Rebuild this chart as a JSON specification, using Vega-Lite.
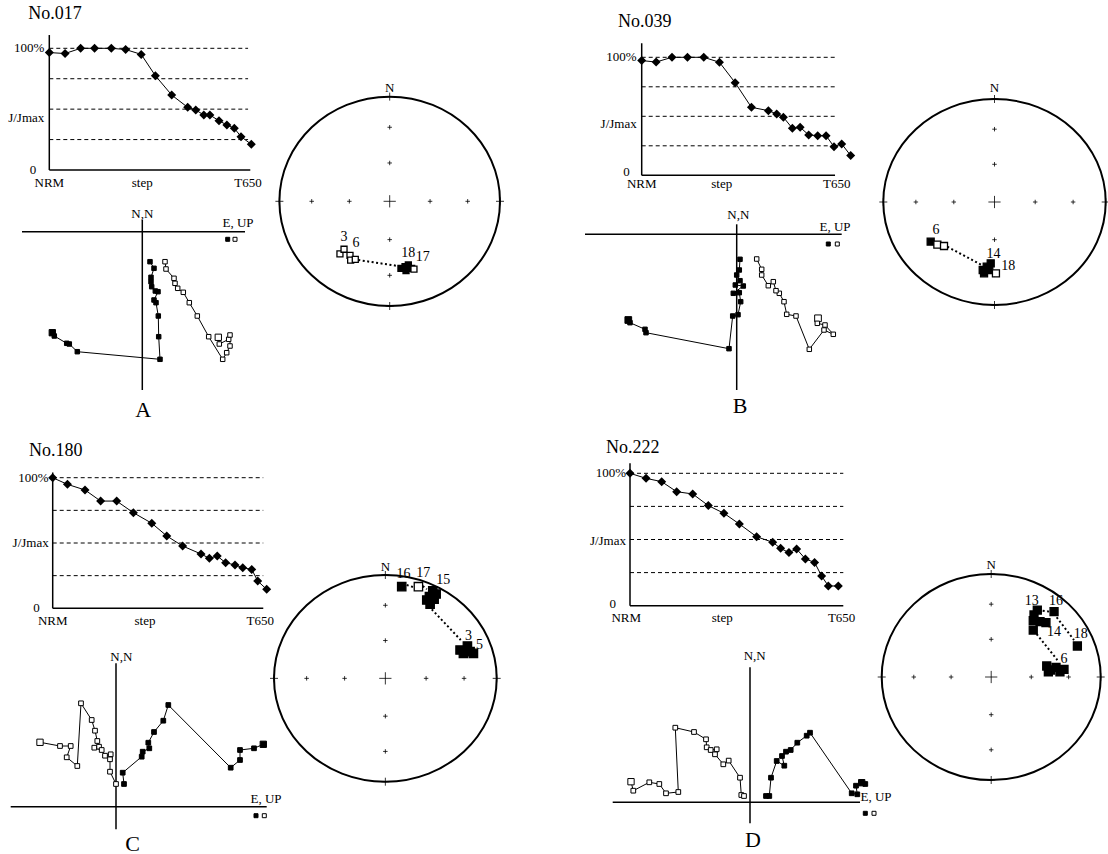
{
"$schema": "https://vega.github.io/schema/vega-lite/v6.json",
"width": 1108, "height": 854, "padding": 0,
"autosize": {"type": "none"},
"background": "white",
"config": {"view": {"stroke": null}, "axis": {"disable": true}, "mark": {"color": "black"}, "text": {"font": "Liberation Serif", "fontSize": 13, "color": "black", "fill": "black"}},
"datasets": {
"gr": [{"g":25},{"g":50},{"g":75},{"g":100}],
"net": [{"x":0,"y":0,"k":"c"},{"x":0,"y":0.366,"k":"s"},{"x":0,"y":0.707,"k":"s"},{"x":0,"y":-0.366,"k":"s"},{"x":0,"y":-0.707,"k":"s"},{"x":0.366,"y":0,"k":"s"},{"x":0.707,"y":0,"k":"s"},{"x":-0.366,"y":0,"k":"s"},{"x":-0.707,"y":0,"k":"s"},{"x":0,"y":1,"k":"e"},{"x":0,"y":-1,"k":"e"},{"x":1,"y":0,"k":"e"},{"x":-1,"y":0,"k":"e"}],
"dm": [
{"p":"A","s":1,"x":0,"y":96.5},{"p":"A","s":2,"x":7.8,"y":95.7},{"p":"A","s":3,"x":15.5,"y":100},{"p":"A","s":4,"x":22.4,"y":100},{"p":"A","s":5,"x":30.7,"y":100},{"p":"A","s":6,"x":37.8,"y":99},{"p":"A","s":7,"x":45.5,"y":95},{"p":"A","s":8,"x":52.5,"y":77.5},{"p":"A","s":9,"x":60.6,"y":61.6},{"p":"A","s":10,"x":68.5,"y":51.5},{"p":"A","s":11,"x":72.5,"y":49.3},{"p":"A","s":12,"x":76.5,"y":45.2},{"p":"A","s":13,"x":79.5,"y":45.2},{"p":"A","s":14,"x":84,"y":40.5},{"p":"A","s":15,"x":87.9,"y":37},{"p":"A","s":16,"x":91.6,"y":34.3},{"p":"A","s":17,"x":94.9,"y":27.4},{"p":"A","s":18,"x":100,"y":21.1},
{"p":"B","s":1,"x":0,"y":97.2},{"p":"B","s":2,"x":6.9,"y":96},{"p":"B","s":3,"x":14.5,"y":100},{"p":"B","s":4,"x":21.9,"y":100},{"p":"B","s":5,"x":29.7,"y":100},{"p":"B","s":6,"x":37.2,"y":95.8},{"p":"B","s":7,"x":44.7,"y":78.5},{"p":"B","s":8,"x":52.5,"y":57.6},{"p":"B","s":9,"x":60.6,"y":54.8},{"p":"B","s":10,"x":64.6,"y":52},{"p":"B","s":11,"x":67.8,"y":49.2},{"p":"B","s":12,"x":72.1,"y":39.8},{"p":"B","s":13,"x":75.8,"y":40.7},{"p":"B","s":14,"x":79.9,"y":34.2},{"p":"B","s":15,"x":84.2,"y":33.6},{"p":"B","s":16,"x":88.2,"y":33.6},{"p":"B","s":17,"x":92,"y":24.3},{"p":"B","s":18,"x":95.7,"y":26.6},{"p":"B","s":19,"x":100,"y":16.7},
{"p":"C","s":1,"x":0,"y":100},{"p":"C","s":2,"x":6.9,"y":94.9},{"p":"C","s":3,"x":15.1,"y":90.6},{"p":"C","s":4,"x":22.4,"y":82.1},{"p":"C","s":5,"x":29.9,"y":82.1},{"p":"C","s":6,"x":37.7,"y":73.2},{"p":"C","s":7,"x":46.3,"y":65.1},{"p":"C","s":8,"x":53.3,"y":55.4},{"p":"C","s":9,"x":60.7,"y":47.7},{"p":"C","s":10,"x":69.3,"y":41.6},{"p":"C","s":11,"x":73.2,"y":38.3},{"p":"C","s":12,"x":76.9,"y":40},{"p":"C","s":13,"x":80.8,"y":34.9},{"p":"C","s":14,"x":85.2,"y":33.2},{"p":"C","s":15,"x":88.8,"y":31.1},{"p":"C","s":16,"x":93,"y":29.8},{"p":"C","s":17,"x":95.8,"y":20.9},{"p":"C","s":18,"x":100,"y":14.5},
{"p":"D","s":1,"x":0,"y":100},{"p":"D","s":2,"x":7.7,"y":96.2},{"p":"D","s":3,"x":15.2,"y":93.7},{"p":"D","s":4,"x":22.4,"y":86.1},{"p":"D","s":5,"x":30.1,"y":84.4},{"p":"D","s":6,"x":37.6,"y":75.6},{"p":"D","s":7,"x":45.1,"y":69.8},{"p":"D","s":8,"x":52.5,"y":61.7},{"p":"D","s":9,"x":60.8,"y":52.1},{"p":"D","s":10,"x":68.5,"y":47.9},{"p":"D","s":11,"x":72.3,"y":43.3},{"p":"D","s":12,"x":76.3,"y":40.1},{"p":"D","s":13,"x":80,"y":42.8},{"p":"D","s":14,"x":84.2,"y":35.3},{"p":"D","s":15,"x":88.6,"y":32.7},{"p":"D","s":16,"x":92,"y":22.4},{"p":"D","s":17,"x":95.2,"y":14.9},{"p":"D","s":18,"x":100,"y":14.9}
],
"zj": [
{"p":"A","t":"f","s":1,"x":-90,"y":-101},{"p":"A","t":"f","s":2,"x":-88,"y":-104.3},{"p":"A","t":"f","s":3,"x":-75.6,"y":-111.6},{"p":"A","t":"f","s":4,"x":-73,"y":-112.3},{"p":"A","t":"f","s":5,"x":-65,"y":-120},{"p":"A","t":"f","s":6,"x":17.7,"y":-127.6},{"p":"A","t":"f","s":7,"x":16.4,"y":-105},{"p":"A","t":"f","s":8,"x":16,"y":-84.3},{"p":"A","t":"f","s":9,"x":13.7,"y":-71},{"p":"A","t":"f","s":10,"x":11.7,"y":-68.3},{"p":"A","t":"f","s":11,"x":15.7,"y":-60},{"p":"A","t":"f","s":12,"x":13,"y":-59.3},{"p":"A","t":"f","s":13,"x":9.4,"y":-55},{"p":"A","t":"f","s":14,"x":8.7,"y":-50},{"p":"A","t":"f","s":15,"x":8.7,"y":-45.6},{"p":"A","t":"f","s":16,"x":11.7,"y":-36.6},{"p":"A","t":"f","s":17,"x":7.7,"y":-30},
{"p":"A","t":"o","s":1,"x":76,"y":-105.6},{"p":"A","t":"o","s":2,"x":77,"y":-112.3},{"p":"A","t":"o","s":3,"x":86.4,"y":-107.6},{"p":"A","t":"o","s":4,"x":87.7,"y":-103.3},{"p":"A","t":"o","s":5,"x":87.7,"y":-114.3},{"p":"A","t":"o","s":6,"x":84.4,"y":-121},{"p":"A","t":"o","s":7,"x":80.4,"y":-127.6},{"p":"A","t":"o","s":8,"x":66.4,"y":-105},{"p":"A","t":"o","s":9,"x":55,"y":-84.3},{"p":"A","t":"o","s":10,"x":47,"y":-71},{"p":"A","t":"o","s":11,"x":41,"y":-60.6},{"p":"A","t":"o","s":12,"x":35.4,"y":-56.6},{"p":"A","t":"o","s":13,"x":32.7,"y":-51.6},{"p":"A","t":"o","s":14,"x":31.7,"y":-46.6},{"p":"A","t":"o","s":15,"x":23.7,"y":-37.3},{"p":"A","t":"o","s":16,"x":22.7,"y":-30},
{"p":"B","t":"f","s":1,"x":-108.4,"y":-85.7},{"p":"B","t":"f","s":2,"x":-106.7,"y":-88.4},{"p":"B","t":"f","s":3,"x":-91.7,"y":-95},{"p":"B","t":"f","s":4,"x":-90.7,"y":-98.4},{"p":"B","t":"f","s":5,"x":-7.7,"y":-114.4},{"p":"B","t":"f","s":6,"x":-4,"y":-81.7},{"p":"B","t":"f","s":7,"x":1.3,"y":-80.4},{"p":"B","t":"f","s":8,"x":4,"y":-67.4},{"p":"B","t":"f","s":9,"x":2.6,"y":-58.4},{"p":"B","t":"f","s":10,"x":-3.4,"y":-59},{"p":"B","t":"f","s":11,"x":6.6,"y":-51.7},{"p":"B","t":"f","s":12,"x":-1.4,"y":-50.7},{"p":"B","t":"f","s":13,"x":3.3,"y":-46.4},{"p":"B","t":"f","s":14,"x":0,"y":-40.7},{"p":"B","t":"f","s":15,"x":2.6,"y":-35.7},{"p":"B","t":"f","s":16,"x":3.3,"y":-25},
{"p":"B","t":"o","s":1,"x":81.3,"y":-84},{"p":"B","t":"o","s":2,"x":80.6,"y":-89},{"p":"B","t":"o","s":3,"x":88.3,"y":-90.7},{"p":"B","t":"o","s":4,"x":96.6,"y":-100},{"p":"B","t":"o","s":5,"x":87.3,"y":-95.7},{"p":"B","t":"o","s":6,"x":72.6,"y":-115},{"p":"B","t":"o","s":7,"x":59.3,"y":-81.7},{"p":"B","t":"o","s":8,"x":50,"y":-80},{"p":"B","t":"o","s":9,"x":47.3,"y":-67.4},{"p":"B","t":"o","s":10,"x":42.6,"y":-59},{"p":"B","t":"o","s":11,"x":39.3,"y":-56.4},{"p":"B","t":"o","s":12,"x":36.6,"y":-47.4},{"p":"B","t":"o","s":13,"x":31.6,"y":-51.4},{"p":"B","t":"o","s":14,"x":25,"y":-40.7},{"p":"B","t":"o","s":15,"x":25,"y":-35},{"p":"B","t":"o","s":16,"x":20,"y":-24.7},
{"p":"C","t":"f","s":1,"x":147.3,"y":62.4},{"p":"C","t":"f","s":2,"x":138,"y":58.4},{"p":"C","t":"f","s":3,"x":124,"y":56.7},{"p":"C","t":"f","s":4,"x":124,"y":46.7},{"p":"C","t":"f","s":5,"x":114.7,"y":39},{"p":"C","t":"f","s":6,"x":52.3,"y":101.7},{"p":"C","t":"f","s":7,"x":47.3,"y":86},{"p":"C","t":"f","s":8,"x":38,"y":74.7},{"p":"C","t":"f","s":9,"x":32.3,"y":64},{"p":"C","t":"f","s":10,"x":33.3,"y":58.4},{"p":"C","t":"f","s":11,"x":26.7,"y":55},{"p":"C","t":"f","s":12,"x":25.7,"y":50},{"p":"C","t":"f","s":13,"x":6.7,"y":34},{"p":"C","t":"f","s":14,"x":8,"y":22.7},
{"p":"C","t":"o","s":1,"x":-76,"y":64.4},{"p":"C","t":"o","s":2,"x":-56,"y":60.7},{"p":"C","t":"o","s":3,"x":-45.3,"y":60.7},{"p":"C","t":"o","s":4,"x":-49.3,"y":49.4},{"p":"C","t":"o","s":5,"x":-38.7,"y":40.7},{"p":"C","t":"o","s":6,"x":-35,"y":103.4},{"p":"C","t":"o","s":7,"x":-24.3,"y":86.7},{"p":"C","t":"o","s":8,"x":-21,"y":76},{"p":"C","t":"o","s":9,"x":-18.7,"y":65.7},{"p":"C","t":"o","s":10,"x":-17,"y":60},{"p":"C","t":"o","s":11,"x":-21.7,"y":59},{"p":"C","t":"o","s":12,"x":-14.3,"y":56.7},{"p":"C","t":"o","s":13,"x":-11,"y":51},{"p":"C","t":"o","s":14,"x":-5.3,"y":52.4},{"p":"C","t":"o","s":15,"x":-6,"y":47.4},{"p":"C","t":"o","s":16,"x":-6,"y":35},{"p":"C","t":"o","s":17,"x":0,"y":22.7},
{"p":"D","t":"f","s":1,"x":111.7,"y":19.6},{"p":"D","t":"f","s":2,"x":115.3,"y":18.3},{"p":"D","t":"f","s":3,"x":106,"y":16.6},{"p":"D","t":"f","s":4,"x":107.3,"y":8},{"p":"D","t":"f","s":5,"x":101.7,"y":9},{"p":"D","t":"f","s":6,"x":60,"y":69.6},{"p":"D","t":"f","s":7,"x":56.7,"y":66.6},{"p":"D","t":"f","s":8,"x":47.3,"y":59.6},{"p":"D","t":"f","s":9,"x":40.7,"y":52.3},{"p":"D","t":"f","s":10,"x":36,"y":50.6},{"p":"D","t":"f","s":11,"x":32,"y":46.3},{"p":"D","t":"f","s":12,"x":34.3,"y":36.6},{"p":"D","t":"f","s":13,"x":26.7,"y":41.3},{"p":"D","t":"f","s":14,"x":21,"y":24.6},{"p":"D","t":"f","s":15,"x":19.3,"y":6.3},{"p":"D","t":"f","s":16,"x":16,"y":6.3},
{"p":"D","t":"o","s":1,"x":-119,"y":20.6},{"p":"D","t":"o","s":2,"x":-116.7,"y":11.6},{"p":"D","t":"o","s":3,"x":-100.7,"y":20},{"p":"D","t":"o","s":4,"x":-90.7,"y":18.3},{"p":"D","t":"o","s":5,"x":-84,"y":9},{"p":"D","t":"o","s":6,"x":-71.7,"y":10.3},{"p":"D","t":"o","s":7,"x":-74.7,"y":74.6},{"p":"D","t":"o","s":8,"x":-56,"y":70.3},{"p":"D","t":"o","s":9,"x":-44,"y":63},{"p":"D","t":"o","s":10,"x":-43.3,"y":55},{"p":"D","t":"o","s":11,"x":-39.3,"y":52.3},{"p":"D","t":"o","s":12,"x":-33.3,"y":53},{"p":"D","t":"o","s":13,"x":-35,"y":48},{"p":"D","t":"o","s":14,"x":-26.7,"y":38},{"p":"D","t":"o","s":15,"x":-21.3,"y":41.7},{"p":"D","t":"o","s":16,"x":-10,"y":24.6},{"p":"D","t":"o","s":17,"x":-8.7,"y":7.3},{"p":"D","t":"o","s":18,"x":-6,"y":6.3}
],
"st": [
{"p":"A","t":"f","x":0.102,"y":-0.64},{"p":"A","t":"f","x":0.139,"y":-0.624},{"p":"A","t":"f","x":0.169,"y":-0.608},{"p":"A","t":"f","x":0.199,"y":-0.64},{"p":"A","t":"f","x":0.148,"y":-0.663},
{"p":"A","t":"o","x":-0.451,"y":-0.503},{"p":"A","t":"o","x":-0.414,"y":-0.458},{"p":"A","t":"o","x":-0.36,"y":-0.516},{"p":"A","t":"o","x":-0.354,"y":-0.561},{"p":"A","t":"o","x":-0.312,"y":-0.554},{"p":"A","t":"o","x":0.22,"y":-0.647},
{"p":"B","t":"f","x":-0.574,"y":-0.385},{"p":"B","t":"f","x":-0.106,"y":-0.66},{"p":"B","t":"f","x":-0.07,"y":-0.628},{"p":"B","t":"f","x":-0.034,"y":-0.595},{"p":"B","t":"f","x":-0.094,"y":-0.692},{"p":"B","t":"f","x":-0.047,"y":-0.66},
{"p":"B","t":"o","x":-0.514,"y":-0.414},{"p":"B","t":"o","x":-0.454,"y":-0.427},{"p":"B","t":"o","x":0.013,"y":-0.692},
{"p":"C","t":"f","x":0.147,"y":0.887},{"p":"C","t":"f","x":0.426,"y":0.848},{"p":"C","t":"f","x":0.456,"y":0.816},{"p":"C","t":"f","x":0.396,"y":0.79},{"p":"C","t":"f","x":0.372,"y":0.758},{"p":"C","t":"f","x":0.402,"y":0.719},{"p":"C","t":"f","x":0.438,"y":0.765},{"p":"C","t":"f","x":0.671,"y":0.274},{"p":"C","t":"f","x":0.737,"y":0.313},{"p":"C","t":"f","x":0.761,"y":0.258},{"p":"C","t":"f","x":0.701,"y":0.242},{"p":"C","t":"f","x":0.791,"y":0.242},
{"p":"C","t":"o","x":0.297,"y":0.887},
{"p":"D","t":"f","x":0.421,"y":0.65},{"p":"D","t":"f","x":0.391,"y":0.602},{"p":"D","t":"f","x":0.384,"y":0.547},{"p":"D","t":"f","x":0.446,"y":0.537},{"p":"D","t":"f","x":0.5,"y":0.527},{"p":"D","t":"f","x":0.384,"y":0.456},{"p":"D","t":"f","x":0.574,"y":0.634},{"p":"D","t":"f","x":0.787,"y":0.301},{"p":"D","t":"f","x":0.507,"y":0.107},{"p":"D","t":"f","x":0.543,"y":0.068},{"p":"D","t":"f","x":0.592,"y":0.094},{"p":"D","t":"f","x":0.628,"y":0.049},{"p":"D","t":"f","x":0.665,"y":0.075},{"p":"D","t":"f","x":0.522,"y":0.051}
],
"sl": [
{"p":"A","t":"3","x":-0.414,"y":-0.338},{"p":"A","t":"6","x":-0.306,"y":-0.401},{"p":"A","t":"18","x":0.168,"y":-0.491},{"p":"A","t":"17","x":0.3,"y":-0.535},
{"p":"B","t":"6","x":-0.526,"y":-0.272},{"p":"B","t":"14","x":-0.01,"y":-0.505},{"p":"B","t":"18","x":0.124,"y":-0.621},
{"p":"C","t":"16","x":0.162,"y":1.01},{"p":"C","t":"17","x":0.341,"y":1.016},{"p":"C","t":"15","x":0.521,"y":0.952},{"p":"C","t":"3","x":0.746,"y":0.409},{"p":"C","t":"5","x":0.845,"y":0.322},
{"p":"D","t":"13","x":0.37,"y":0.741},{"p":"D","t":"16","x":0.592,"y":0.741},{"p":"D","t":"14","x":0.574,"y":0.44},{"p":"D","t":"18","x":0.817,"y":0.417},{"p":"D","t":"6","x":0.665,"y":0.172}
],
"sd": [
{"p":"A","g":1,"x":-0.285,"y":-0.561},{"p":"A","g":1,"x":0.078,"y":-0.618},
{"p":"B","g":1,"x":-0.424,"y":-0.434},{"p":"B","g":1,"x":-0.115,"y":-0.612},
{"p":"C","g":1,"x":0.192,"y":0.903},{"p":"C","g":1,"x":0.258,"y":0.881},{"p":"C","g":2,"x":0.336,"y":0.894},{"p":"C","g":2,"x":0.372,"y":0.862},{"p":"C","g":3,"x":0.417,"y":0.668},{"p":"C","g":3,"x":0.677,"y":0.371},
{"p":"D","g":1,"x":0.47,"y":0.644},{"p":"D","g":1,"x":0.553,"y":0.631},{"p":"D","g":2,"x":0.598,"y":0.58},{"p":"D","g":2,"x":0.756,"y":0.359},{"p":"D","g":3,"x":0.415,"y":0.417},{"p":"D","g":3,"x":0.604,"y":0.165}
]
},
"resolve": {"scale": {"x": "independent", "y": "independent"}},
"layer": [
{"layer": [
 {"data":{"name":"gr"},"mark":{"type":"rule","strokeDash":[4,3],"strokeWidth":1,"color":"black"},"encoding":{"y":{"field":"g","type":"quantitative","scale":{"domain":[0,100],"range":[170,48.3],"nice":false,"zero":false}},"x":{"datum":0,"scale":{"domain":[0,100],"range":[49.3,251.3],"nice":false,"zero":false}},"x2":{"datum":98.4}}},
 {"data":{"values":[{}]},"mark":{"type":"rule","strokeWidth":1.5,"color":"black"},"encoding":{"x":{"datum":0},"y":{"datum":0},"y2":{"datum":110.9}}},
 {"data":{"values":[{}]},"mark":{"type":"rule","strokeWidth":1.5,"color":"black"},"encoding":{"x":{"datum":0},"x2":{"datum":99.5},"y":{"datum":0}}},
 {"data":{"name":"dm"},"transform":[{"filter":"datum.p=='A'"}],"mark":{"type":"line","strokeWidth":1,"color":"black"},"encoding":{"x":{"field":"x","type":"quantitative"},"y":{"field":"y","type":"quantitative"},"order":{"field":"s","type":"quantitative"}}},
 {"data":{"name":"dm"},"transform":[{"filter":"datum.p=='A'"}],"mark":{"type":"point","shape":"diamond","filled":true,"size":81,"color":"black","opacity":1},"encoding":{"x":{"field":"x","type":"quantitative"},"y":{"field":"y","type":"quantitative"}}},
 {"data":{"values":[{"v":100,"t":"100%"},{"v":42.7,"t":"J/Jmax"}]},"mark":{"type":"text","align":"right","baseline":"middle","dx":-5,"color":"black"},"encoding":{"x":{"datum":0},"y":{"field":"v","type":"quantitative"},"text":{"field":"t","type":"nominal"}}},
 {"data":{"values":[{}]},"mark":{"type":"text","text":"0","align":"right","baseline":"middle","dx":-13,"color":"black"},"encoding":{"x":{"datum":0},"y":{"datum":0}}},
 {"data":{"values":[{"v":0,"t":"NRM"},{"v":46,"t":"step"},{"v":98.4,"t":"T650"}]},"mark":{"type":"text","align":"center","baseline":"middle","dy":13,"color":"black"},"encoding":{"x":{"field":"v","type":"quantitative"},"y":{"datum":0},"text":{"field":"t","type":"nominal"}}},
 {"data":{"values":[{}]},"mark":{"type":"text","text":"No.017","align":"left","baseline":"middle","fontSize":18,"color":"black"},"encoding":{"x":{"datum":-10.4},"y":{"datum":128.2}}}
]},
{"layer": [
 {"data":{"name":"gr"},"mark":{"type":"rule","strokeDash":[4,3],"strokeWidth":1,"color":"black"},"encoding":{"y":{"field":"g","type":"quantitative","scale":{"domain":[0,100],"range":[175.3,57.3],"nice":false,"zero":false}},"x":{"datum":0,"scale":{"domain":[0,100],"range":[641.7,850.7],"nice":false,"zero":false}},"x2":{"datum":92.5}}},
 {"data":{"values":[{}]},"mark":{"type":"rule","strokeWidth":1.5,"color":"black"},"encoding":{"x":{"datum":0},"y":{"datum":0},"y2":{"datum":111.9}}},
 {"data":{"values":[{}]},"mark":{"type":"rule","strokeWidth":1.5,"color":"black"},"encoding":{"x":{"datum":0},"x2":{"datum":92.5},"y":{"datum":0}}},
 {"data":{"name":"dm"},"transform":[{"filter":"datum.p=='B'"}],"mark":{"type":"line","strokeWidth":1,"color":"black"},"encoding":{"x":{"field":"x","type":"quantitative"},"y":{"field":"y","type":"quantitative"},"order":{"field":"s","type":"quantitative"}}},
 {"data":{"name":"dm"},"transform":[{"filter":"datum.p=='B'"}],"mark":{"type":"point","shape":"diamond","filled":true,"size":81,"color":"black","opacity":1},"encoding":{"x":{"field":"x","type":"quantitative"},"y":{"field":"y","type":"quantitative"}}},
 {"data":{"values":[{"v":100,"t":"100%"},{"v":43.3,"t":"J/Jmax"}]},"mark":{"type":"text","align":"right","baseline":"middle","dx":-5,"color":"black"},"encoding":{"x":{"datum":0},"y":{"field":"v","type":"quantitative"},"text":{"field":"t","type":"nominal"}}},
 {"data":{"values":[{}]},"mark":{"type":"text","text":"0","align":"right","baseline":"middle","dx":-12,"dy":-3,"color":"black"},"encoding":{"x":{"datum":0},"y":{"datum":0}}},
 {"data":{"values":[{"v":0,"t":"NRM"},{"v":38.3,"t":"step"},{"v":93.3,"t":"T650"}]},"mark":{"type":"text","align":"center","baseline":"middle","dy":9,"color":"black"},"encoding":{"x":{"field":"v","type":"quantitative"},"y":{"datum":0},"text":{"field":"t","type":"nominal"}}},
 {"data":{"values":[{}]},"mark":{"type":"text","text":"No.039","align":"left","baseline":"middle","fontSize":18,"color":"black"},"encoding":{"x":{"datum":-11.3},"y":{"datum":129.9}}}
]},
{"layer": [
 {"data":{"name":"gr"},"mark":{"type":"rule","strokeDash":[4,3],"strokeWidth":1,"color":"black"},"encoding":{"y":{"field":"g","type":"quantitative","scale":{"domain":[0,100],"range":[608.3,477.7],"nice":false,"zero":false}},"x":{"datum":0,"scale":{"domain":[0,100],"range":[52.7,266.7],"nice":false,"zero":false}},"x2":{"datum":98.4}}},
 {"data":{"values":[{}]},"mark":{"type":"rule","strokeWidth":1.5,"color":"black"},"encoding":{"x":{"datum":0},"y":{"datum":0},"y2":{"datum":104}}},
 {"data":{"values":[{}]},"mark":{"type":"rule","strokeWidth":1.5,"color":"black"},"encoding":{"x":{"datum":0},"x2":{"datum":98.4},"y":{"datum":0}}},
 {"data":{"name":"dm"},"transform":[{"filter":"datum.p=='C'"}],"mark":{"type":"line","strokeWidth":1,"color":"black"},"encoding":{"x":{"field":"x","type":"quantitative"},"y":{"field":"y","type":"quantitative"},"order":{"field":"s","type":"quantitative"}}},
 {"data":{"name":"dm"},"transform":[{"filter":"datum.p=='C'"}],"mark":{"type":"point","shape":"diamond","filled":true,"size":81,"color":"black","opacity":1},"encoding":{"x":{"field":"x","type":"quantitative"},"y":{"field":"y","type":"quantitative"}}},
 {"data":{"values":[{"v":100,"t":"100%"},{"v":49.7,"t":"J/Jmax"}]},"mark":{"type":"text","align":"right","baseline":"middle","dx":-4,"color":"black"},"encoding":{"x":{"datum":0},"y":{"field":"v","type":"quantitative"},"text":{"field":"t","type":"nominal"}}},
 {"data":{"values":[{}]},"mark":{"type":"text","text":"0","align":"right","baseline":"middle","dx":-13,"color":"black"},"encoding":{"x":{"datum":0},"y":{"datum":0}}},
 {"data":{"values":[{"v":0,"t":"NRM"},{"v":43.1,"t":"step"},{"v":97,"t":"T650"}]},"mark":{"type":"text","align":"center","baseline":"middle","dy":13,"color":"black"},"encoding":{"x":{"field":"v","type":"quantitative"},"y":{"datum":0},"text":{"field":"t","type":"nominal"}}},
 {"data":{"values":[{}]},"mark":{"type":"text","text":"No.180","align":"left","baseline":"middle","fontSize":18,"color":"black"},"encoding":{"x":{"datum":-11.1},"y":{"datum":120.4}}}
]},
{"layer": [
 {"data":{"name":"gr"},"mark":{"type":"rule","strokeDash":[4,3],"strokeWidth":1,"color":"black"},"encoding":{"y":{"field":"g","type":"quantitative","scale":{"domain":[0,100],"range":[605.7,473.3],"nice":false,"zero":false}},"x":{"datum":0,"scale":{"domain":[0,100],"range":[630,838.3],"nice":false,"zero":false}},"x2":{"datum":102.4}}},
 {"data":{"values":[{}]},"mark":{"type":"rule","strokeWidth":1.5,"color":"black"},"encoding":{"x":{"datum":0},"y":{"datum":0},"y2":{"datum":107.6}}},
 {"data":{"values":[{}]},"mark":{"type":"rule","strokeWidth":1.5,"color":"black"},"encoding":{"x":{"datum":0},"x2":{"datum":102.4},"y":{"datum":0}}},
 {"data":{"name":"dm"},"transform":[{"filter":"datum.p=='D'"}],"mark":{"type":"line","strokeWidth":1,"color":"black"},"encoding":{"x":{"field":"x","type":"quantitative"},"y":{"field":"y","type":"quantitative"},"order":{"field":"s","type":"quantitative"}}},
 {"data":{"name":"dm"},"transform":[{"filter":"datum.p=='D'"}],"mark":{"type":"point","shape":"diamond","filled":true,"size":81,"color":"black","opacity":1},"encoding":{"x":{"field":"x","type":"quantitative"},"y":{"field":"y","type":"quantitative"}}},
 {"data":{"values":[{"v":100,"t":"100%"},{"v":48.6,"t":"J/Jmax"}]},"mark":{"type":"text","align":"right","baseline":"middle","dx":-4,"color":"black"},"encoding":{"x":{"datum":0},"y":{"field":"v","type":"quantitative"},"text":{"field":"t","type":"nominal"}}},
 {"data":{"values":[{}]},"mark":{"type":"text","text":"0","align":"right","baseline":"middle","dx":-14,"dy":-2,"color":"black"},"encoding":{"x":{"datum":0},"y":{"datum":0}}},
 {"data":{"values":[{"v":-1.8,"t":"NRM"},{"v":44.3,"t":"step"},{"v":101.6,"t":"T650"}]},"mark":{"type":"text","align":"center","baseline":"middle","dy":12,"color":"black"},"encoding":{"x":{"field":"v","type":"quantitative"},"y":{"datum":0},"text":{"field":"t","type":"nominal"}}},
 {"data":{"values":[{}]},"mark":{"type":"text","text":"No.222","align":"left","baseline":"middle","fontSize":18,"color":"black"},"encoding":{"x":{"datum":-11.5},"y":{"datum":119.1}}}
]},
{"layer": [
 {"data":{"values":[{}]},"mark":{"type":"rule","strokeWidth":1.5,"color":"black"},"encoding":{"x":{"datum":-120.3,"scale":{"domain":[-120.3,102.7],"range":[22,245],"nice":false,"zero":false}},"x2":{"datum":102.7},"y":{"datum":0,"scale":{"domain":[-158.3,11.7],"range":[390,220],"nice":false,"zero":false}}}},
 {"data":{"values":[{}]},"mark":{"type":"rule","strokeWidth":1.5,"color":"black"},"encoding":{"x":{"datum":0},"y":{"datum":-158.3},"y2":{"datum":11.7}}},
 {"data":{"name":"zj"},"transform":[{"filter":"datum.p=='A'"}],"mark":{"type":"line","strokeWidth":1,"color":"black"},"encoding":{"x":{"field":"x","type":"quantitative"},"y":{"field":"y","type":"quantitative"},"detail":{"field":"t"},"order":{"field":"s","type":"quantitative"}}},
 {"data":{"name":"zj"},"transform":[{"filter":"datum.p=='A'"}],"mark":{"type":"point","shape":"square","filled":true,"stroke":"black","strokeWidth":1,"opacity":1},"encoding":{"x":{"field":"x","type":"quantitative"},"y":{"field":"y","type":"quantitative"},"fill":{"condition":{"test":"datum.t=='f'","value":"black"},"value":"white"},"size":{"condition":{"test":"datum.s==1","value":40},"value":20}}},
 {"data":{"values":[{}]},"mark":{"type":"text","text":"N,N","align":"center","baseline":"middle","color":"black"},"encoding":{"x":{"datum":0},"y":{"datum":18}}},
 {"data":{"values":[{}]},"mark":{"type":"text","text":"E, UP","align":"center","baseline":"middle","color":"black"},"encoding":{"x":{"datum":95.7},"y":{"datum":8.4}}},
 {"data":{"values":[{}]},"mark":{"type":"point","shape":"square","filled":true,"fill":"black","stroke":"black","strokeWidth":1,"size":16,"opacity":1},"encoding":{"x":{"datum":85.4},"y":{"datum":-7.6}}},
 {"data":{"values":[{}]},"mark":{"type":"point","shape":"square","filled":true,"fill":"white","stroke":"black","strokeWidth":1,"size":16,"opacity":1},"encoding":{"x":{"datum":92.7},"y":{"datum":-7.6}}},
 {"data":{"values":[{}]},"mark":{"type":"text","text":"A","align":"center","baseline":"middle","fontSize":22,"color":"black"},"encoding":{"x":{"datum":1},"y":{"datum":-178.3}}}
]},
{"layer": [
 {"data":{"values":[{}]},"mark":{"type":"rule","strokeWidth":1.5,"color":"black"},"encoding":{"x":{"datum":-151.7,"scale":{"domain":[-151.7,105],"range":[585,841.7],"nice":false,"zero":false}},"x2":{"datum":105},"y":{"datum":0,"scale":{"domain":[-155.7,10],"range":[390,224.3],"nice":false,"zero":false}}}},
 {"data":{"values":[{}]},"mark":{"type":"rule","strokeWidth":1.5,"color":"black"},"encoding":{"x":{"datum":0},"y":{"datum":-155.7},"y2":{"datum":10}}},
 {"data":{"name":"zj"},"transform":[{"filter":"datum.p=='B'"}],"mark":{"type":"line","strokeWidth":1,"color":"black"},"encoding":{"x":{"field":"x","type":"quantitative"},"y":{"field":"y","type":"quantitative"},"detail":{"field":"t"},"order":{"field":"s","type":"quantitative"}}},
 {"data":{"name":"zj"},"transform":[{"filter":"datum.p=='B'"}],"mark":{"type":"point","shape":"square","filled":true,"stroke":"black","strokeWidth":1,"opacity":1},"encoding":{"x":{"field":"x","type":"quantitative"},"y":{"field":"y","type":"quantitative"},"fill":{"condition":{"test":"datum.t=='f'","value":"black"},"value":"white"},"size":{"condition":{"test":"datum.s==1","value":45},"value":20}}},
 {"data":{"values":[{}]},"mark":{"type":"text","text":"N,N","align":"center","baseline":"middle","color":"black"},"encoding":{"x":{"datum":1.6},"y":{"datum":19.3}}},
 {"data":{"values":[{}]},"mark":{"type":"text","text":"E, UP","align":"center","baseline":"middle","color":"black"},"encoding":{"x":{"datum":98.3},"y":{"datum":7}}},
 {"data":{"values":[{}]},"mark":{"type":"point","shape":"square","filled":true,"fill":"black","stroke":"black","strokeWidth":1,"size":16,"opacity":1},"encoding":{"x":{"datum":91.6},"y":{"datum":-9.7}}},
 {"data":{"values":[{}]},"mark":{"type":"point","shape":"square","filled":true,"fill":"white","stroke":"black","strokeWidth":1,"size":16,"opacity":1},"encoding":{"x":{"datum":100.6},"y":{"datum":-9.7}}},
 {"data":{"values":[{}]},"mark":{"type":"text","text":"B","align":"center","baseline":"middle","fontSize":22,"color":"black"},"encoding":{"x":{"datum":3.3},"y":{"datum":-171.7}}}
]},
{"layer": [
 {"data":{"values":[{}]},"mark":{"type":"rule","strokeWidth":1.5,"color":"black"},"encoding":{"x":{"datum":-105.3,"scale":{"domain":[-105.3,150.7],"range":[10.7,266.7],"nice":false,"zero":false}},"x2":{"datum":150.7},"y":{"datum":0,"scale":{"domain":[-22.6,143.4],"range":[829.3,663.3],"nice":false,"zero":false}}}},
 {"data":{"values":[{}]},"mark":{"type":"rule","strokeWidth":1.5,"color":"black"},"encoding":{"x":{"datum":0},"y":{"datum":-22.6},"y2":{"datum":143.4}}},
 {"data":{"name":"zj"},"transform":[{"filter":"datum.p=='C'"}],"mark":{"type":"line","strokeWidth":1,"color":"black"},"encoding":{"x":{"field":"x","type":"quantitative"},"y":{"field":"y","type":"quantitative"},"detail":{"field":"t"},"order":{"field":"s","type":"quantitative"}}},
 {"data":{"name":"zj"},"transform":[{"filter":"datum.p=='C'"}],"mark":{"type":"point","shape":"square","filled":true,"stroke":"black","strokeWidth":1,"opacity":1},"encoding":{"x":{"field":"x","type":"quantitative"},"y":{"field":"y","type":"quantitative"},"fill":{"condition":{"test":"datum.t=='f'","value":"black"},"value":"white"},"size":{"condition":{"test":"datum.s==1","value":40},"value":22}}},
 {"data":{"values":[{}]},"mark":{"type":"text","text":"N,N","align":"center","baseline":"middle","color":"black"},"encoding":{"x":{"datum":5.3},"y":{"datum":150}}},
 {"data":{"values":[{}]},"mark":{"type":"text","text":"E, UP","align":"center","baseline":"middle","color":"black"},"encoding":{"x":{"datum":150},"y":{"datum":7.4}}},
 {"data":{"values":[{}]},"mark":{"type":"point","shape":"square","filled":true,"fill":"black","stroke":"black","strokeWidth":1,"size":16,"opacity":1},"encoding":{"x":{"datum":140},"y":{"datum":-9}}},
 {"data":{"values":[{}]},"mark":{"type":"point","shape":"square","filled":true,"fill":"white","stroke":"black","strokeWidth":1,"size":16,"opacity":1},"encoding":{"x":{"datum":148.3},"y":{"datum":-9}}},
 {"data":{"values":[{}]},"mark":{"type":"text","text":"C","align":"center","baseline":"middle","fontSize":22,"color":"black"},"encoding":{"x":{"datum":16.5},"y":{"datum":-36.8}}}
]},
{"layer": [
 {"data":{"values":[{}]},"mark":{"type":"rule","strokeWidth":1.5,"color":"black"},"encoding":{"x":{"datum":-137.3,"scale":{"domain":[-137.3,110],"range":[612.7,860],"nice":false,"zero":false}},"x2":{"datum":110},"y":{"datum":0,"scale":{"domain":[-21,135],"range":[823.3,667.3],"nice":false,"zero":false}}}},
 {"data":{"values":[{}]},"mark":{"type":"rule","strokeWidth":1.5,"color":"black"},"encoding":{"x":{"datum":0},"y":{"datum":-21},"y2":{"datum":135}}},
 {"data":{"name":"zj"},"transform":[{"filter":"datum.p=='D'"}],"mark":{"type":"line","strokeWidth":1,"color":"black"},"encoding":{"x":{"field":"x","type":"quantitative"},"y":{"field":"y","type":"quantitative"},"detail":{"field":"t"},"order":{"field":"s","type":"quantitative"}}},
 {"data":{"name":"zj"},"transform":[{"filter":"datum.p=='D'"}],"mark":{"type":"point","shape":"square","filled":true,"stroke":"black","strokeWidth":1,"opacity":1},"encoding":{"x":{"field":"x","type":"quantitative"},"y":{"field":"y","type":"quantitative"},"fill":{"condition":{"test":"datum.t=='f'","value":"black"},"value":"white"},"size":{"condition":{"test":"datum.s==1","value":40},"value":22}}},
 {"data":{"values":[{}]},"mark":{"type":"text","text":"N,N","align":"center","baseline":"middle","color":"black"},"encoding":{"x":{"datum":4.7},"y":{"datum":146}}},
 {"data":{"values":[{}]},"mark":{"type":"text","text":"E, UP","align":"center","baseline":"middle","color":"black"},"encoding":{"x":{"datum":126},"y":{"datum":5}}},
 {"data":{"values":[{}]},"mark":{"type":"point","shape":"square","filled":true,"fill":"black","stroke":"black","strokeWidth":1,"size":16,"opacity":1},"encoding":{"x":{"datum":115.3},"y":{"datum":-11}}},
 {"data":{"values":[{}]},"mark":{"type":"point","shape":"square","filled":true,"fill":"white","stroke":"black","strokeWidth":1,"size":16,"opacity":1},"encoding":{"x":{"datum":124},"y":{"datum":-11}}},
 {"data":{"values":[{}]},"mark":{"type":"text","text":"D","align":"center","baseline":"middle","fontSize":22,"color":"black"},"encoding":{"x":{"datum":3},"y":{"datum":-37.7}}}
]},
{"layer": [
 {"data":{"values":[{}]},"mark":{"type":"point","shape":"M1,0C1,0.524,0.552,0.949,0,0.949C-0.552,0.949,-1,0.524,-1,0C-1,-0.524,-0.552,-0.949,0,-0.949C0.552,-0.949,1,-0.524,1,0Z","filled":false,"stroke":"black","strokeWidth":2,"size":48664,"opacity":1},"encoding":{"x":{"datum":0,"scale":{"domain":[-1,1],"range":[279.4,500],"nice":false,"zero":false}},"y":{"datum":0,"scale":{"domain":[-1,1],"range":[306,96.6],"nice":false,"zero":false}}}},
 {"data":{"name":"net"},"mark":{"type":"point","shape":"M-1,0L1,0M0,-1L0,1","filled":false,"stroke":"black","strokeWidth":0.8,"opacity":1},"encoding":{"x":{"field":"x","type":"quantitative"},"y":{"field":"y","type":"quantitative"},"size":{"condition":[{"test":"datum.k=='c'","value":150},{"test":"datum.k=='e'","value":64}],"value":20}}},
 {"data":{"name":"sd"},"transform":[{"filter":"datum.p=='A'"}],"mark":{"type":"line","strokeWidth":2,"strokeDash":[2,2.5],"color":"black"},"encoding":{"x":{"field":"x","type":"quantitative"},"y":{"field":"y","type":"quantitative"},"detail":{"field":"g"}}},
 {"data":{"name":"st"},"transform":[{"filter":"datum.p=='A'"}],"mark":{"type":"point","shape":"square","filled":true,"stroke":"black","strokeWidth":1.3,"size":36,"opacity":1},"encoding":{"x":{"field":"x","type":"quantitative"},"y":{"field":"y","type":"quantitative"},"fill":{"condition":{"test":"datum.t=='f'","value":"black"},"value":"white"}}},
 {"data":{"name":"sl"},"transform":[{"filter":"datum.p=='A'"}],"mark":{"type":"text","fontSize":14,"align":"center","baseline":"middle","color":"black"},"encoding":{"x":{"field":"x","type":"quantitative"},"y":{"field":"y","type":"quantitative"},"text":{"field":"t","type":"nominal"}}},
 {"data":{"values":[{}]},"mark":{"type":"text","text":"N","align":"center","baseline":"middle","dy":-8.5,"color":"black"},"encoding":{"x":{"datum":0},"y":{"datum":1}}}
]},
{"layer": [
 {"data":{"values":[{}]},"mark":{"type":"point","shape":"M1,0C1,0.511,0.552,0.926,0,0.926C-0.552,0.926,-1,0.511,-1,0C-1,-0.511,-0.552,-0.926,0,-0.926C0.552,-0.926,1,-0.511,1,0Z","filled":false,"stroke":"black","strokeWidth":2,"size":49462,"opacity":1},"encoding":{"x":{"datum":0,"scale":{"domain":[-1,1],"range":[883.3,1105.7],"nice":false,"zero":false}},"y":{"datum":0,"scale":{"domain":[-1,1],"range":[305,99],"nice":false,"zero":false}}}},
 {"data":{"name":"net"},"mark":{"type":"point","shape":"M-1,0L1,0M0,-1L0,1","filled":false,"stroke":"black","strokeWidth":0.8,"opacity":1},"encoding":{"x":{"field":"x","type":"quantitative"},"y":{"field":"y","type":"quantitative"},"size":{"condition":[{"test":"datum.k=='c'","value":150},{"test":"datum.k=='e'","value":64}],"value":20}}},
 {"data":{"name":"sd"},"transform":[{"filter":"datum.p=='B'"}],"mark":{"type":"line","strokeWidth":2,"strokeDash":[2,2.5],"color":"black"},"encoding":{"x":{"field":"x","type":"quantitative"},"y":{"field":"y","type":"quantitative"},"detail":{"field":"g"}}},
 {"data":{"name":"st"},"transform":[{"filter":"datum.p=='B'"}],"mark":{"type":"point","shape":"square","filled":true,"stroke":"black","strokeWidth":1.3,"size":49,"opacity":1},"encoding":{"x":{"field":"x","type":"quantitative"},"y":{"field":"y","type":"quantitative"},"fill":{"condition":{"test":"datum.t=='f'","value":"black"},"value":"white"}}},
 {"data":{"name":"sl"},"transform":[{"filter":"datum.p=='B'"}],"mark":{"type":"text","fontSize":14,"align":"center","baseline":"middle","color":"black"},"encoding":{"x":{"field":"x","type":"quantitative"},"y":{"field":"y","type":"quantitative"},"text":{"field":"t","type":"nominal"}}},
 {"data":{"values":[{}]},"mark":{"type":"text","text":"N","align":"center","baseline":"middle","dy":-11,"color":"black"},"encoding":{"x":{"datum":0},"y":{"datum":1}}}
]},
{"layer": [
 {"data":{"values":[{}]},"mark":{"type":"point","shape":"M1,0C1,0.513,0.552,0.928,0,0.928C-0.552,0.928,-1,0.513,-1,0C-1,-0.513,-0.552,-0.928,0,-0.928C0.552,-0.928,1,-0.513,1,0Z","filled":false,"stroke":"black","strokeWidth":2,"size":49595,"opacity":1},"encoding":{"x":{"datum":0,"scale":{"domain":[-1,1],"range":[274,496.7],"nice":false,"zero":false}},"y":{"datum":0,"scale":{"domain":[-1,1],"range":[781.7,575],"nice":false,"zero":false}}}},
 {"data":{"name":"net"},"mark":{"type":"point","shape":"M-1,0L1,0M0,-1L0,1","filled":false,"stroke":"black","strokeWidth":0.8,"opacity":1},"encoding":{"x":{"field":"x","type":"quantitative"},"y":{"field":"y","type":"quantitative"},"size":{"condition":[{"test":"datum.k=='c'","value":150},{"test":"datum.k=='e'","value":64}],"value":20}}},
 {"data":{"name":"sd"},"transform":[{"filter":"datum.p=='C'"}],"mark":{"type":"line","strokeWidth":2,"strokeDash":[2,2.5],"color":"black"},"encoding":{"x":{"field":"x","type":"quantitative"},"y":{"field":"y","type":"quantitative"},"detail":{"field":"g"}}},
 {"data":{"name":"st"},"transform":[{"filter":"datum.p=='C'"}],"mark":{"type":"point","shape":"square","filled":true,"stroke":"black","strokeWidth":1.3,"size":70,"opacity":1},"encoding":{"x":{"field":"x","type":"quantitative"},"y":{"field":"y","type":"quantitative"},"fill":{"condition":{"test":"datum.t=='f'","value":"black"},"value":"white"}}},
 {"data":{"name":"sl"},"transform":[{"filter":"datum.p=='C'"}],"mark":{"type":"text","fontSize":14,"align":"center","baseline":"middle","color":"black"},"encoding":{"x":{"field":"x","type":"quantitative"},"y":{"field":"y","type":"quantitative"},"text":{"field":"t","type":"nominal"}}},
 {"data":{"values":[{}]},"mark":{"type":"text","text":"N","align":"center","baseline":"middle","dy":-8,"color":"black"},"encoding":{"x":{"datum":0},"y":{"datum":1}}}
]},
{"layer": [
 {"data":{"values":[{}]},"mark":{"type":"point","shape":"M1,0C1,0.52,0.552,0.941,0,0.941C-0.552,0.941,-1,0.52,-1,0C-1,-0.52,-0.552,-0.941,0,-0.941C0.552,-0.941,1,-0.52,1,0Z","filled":false,"stroke":"black","strokeWidth":2,"size":47961,"opacity":1},"encoding":{"x":{"datum":0,"scale":{"domain":[-1,1],"range":[881.7,1100.7],"nice":false,"zero":false}},"y":{"datum":0,"scale":{"domain":[-1,1],"range":[780,574],"nice":false,"zero":false}}}},
 {"data":{"name":"net"},"mark":{"type":"point","shape":"M-1,0L1,0M0,-1L0,1","filled":false,"stroke":"black","strokeWidth":0.8,"opacity":1},"encoding":{"x":{"field":"x","type":"quantitative"},"y":{"field":"y","type":"quantitative"},"size":{"condition":[{"test":"datum.k=='c'","value":150},{"test":"datum.k=='e'","value":64}],"value":20}}},
 {"data":{"name":"sd"},"transform":[{"filter":"datum.p=='D'"}],"mark":{"type":"line","strokeWidth":2,"strokeDash":[2,2.5],"color":"black"},"encoding":{"x":{"field":"x","type":"quantitative"},"y":{"field":"y","type":"quantitative"},"detail":{"field":"g"}}},
 {"data":{"name":"st"},"transform":[{"filter":"datum.p=='D'"}],"mark":{"type":"point","shape":"square","filled":true,"stroke":"black","strokeWidth":1.3,"size":64,"opacity":1},"encoding":{"x":{"field":"x","type":"quantitative"},"y":{"field":"y","type":"quantitative"},"fill":{"condition":{"test":"datum.t=='f'","value":"black"},"value":"white"}}},
 {"data":{"name":"sl"},"transform":[{"filter":"datum.p=='D'"}],"mark":{"type":"text","fontSize":14,"align":"center","baseline":"middle","color":"black"},"encoding":{"x":{"field":"x","type":"quantitative"},"y":{"field":"y","type":"quantitative"},"text":{"field":"t","type":"nominal"}}},
 {"data":{"values":[{}]},"mark":{"type":"text","text":"N","align":"center","baseline":"middle","dy":-9,"color":"black"},"encoding":{"x":{"datum":0},"y":{"datum":1}}}
]}
]
}
